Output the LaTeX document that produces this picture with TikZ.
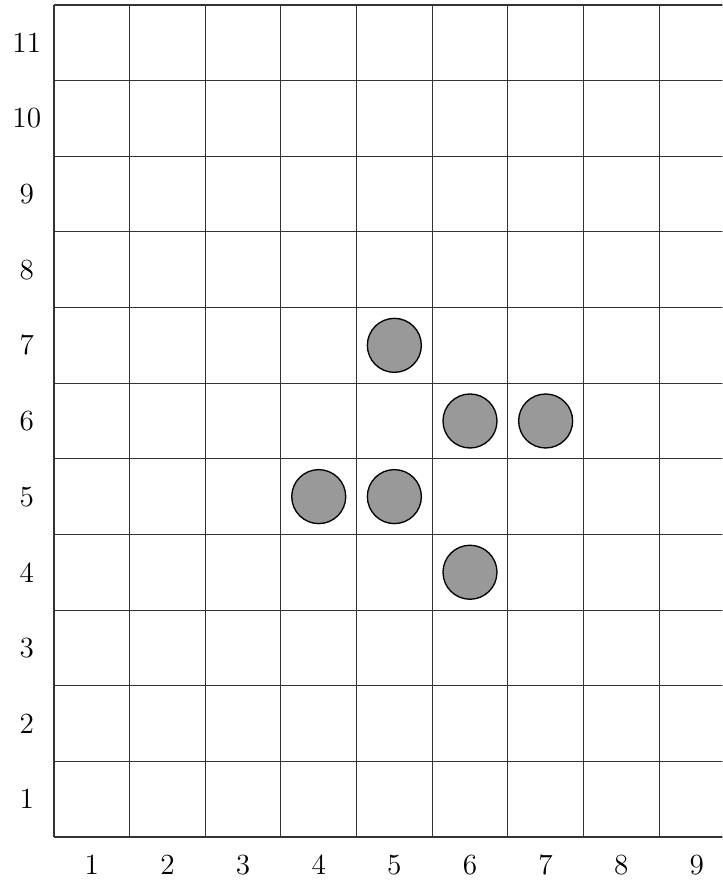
\documentclass[tikz,border=0pt]{standalone}
\begin{document}
\begin{tikzpicture}[x=1cm,y=1cm,
  gridline/.style={line width=0.4pt, draw=black!80},
  stone/.style={circle, draw=black, line width=0.5pt, fill=black!40, minimum size=0.714cm, inner sep=0pt},
  lbl/.style={font=\fontsize{11}{13}\selectfont, inner sep=0pt}]
\useasboundingbox (-0.714,-0.582) rectangle (8.836,11.066);
\clip (-0.714,-0.582) rectangle (8.836,11.066);
\draw[gridline] (0,0) grid (9,11);
\foreach \i in {1,...,9} {
  \node[lbl] (c\i) at (\i-0.5,-0.37) {\i};
}
\foreach \j in {1,...,11} {
  \node[lbl] (r\j) at (-0.36,\j-0.5) {\j};
}
\node[stone] (s57) at (4.5,6.5) {};
\node[stone] (s66) at (5.5,5.5) {};
\node[stone] (s76) at (6.5,5.5) {};
\node[stone] (s45) at (3.5,4.5) {};
\node[stone] (s55) at (4.5,4.5) {};
\node[stone] (s64) at (5.5,3.5) {};
\end{tikzpicture}
\end{document}
